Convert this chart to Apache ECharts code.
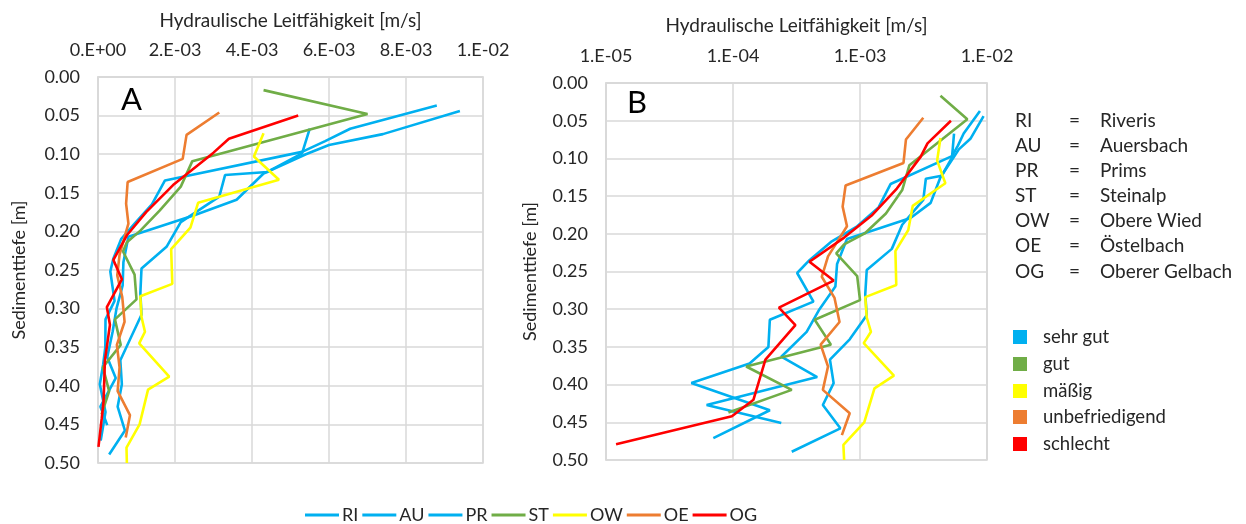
<!DOCTYPE html>
<html>
<head>
<meta charset="utf-8">
<script src="https://cdn.jsdelivr.net/npm/echarts@6/dist/echarts.min.js"></script>
<style>
html,body{margin:0;padding:0;background:#fff;}
#chart{width:1246px;height:524px;}
</style>
</head>
<body>
<div id="chart"></div>
<script>
// ---- data: depth [m] and hydraulic conductivity [m/s] ----
const seriesNames = ['RI','AU','PR','ST','OW','OE','OG'];
const seriesColors = ['#00B0F0','#00B0F0','#00B0F0','#70AD47','#FFFF00','#ED7D31','#FF0000'];

const RI_depth = [0.037,0.067,0.083,0.097,0.134,0.165,0.19,0.21,0.235,0.252,0.29,0.314,0.35,0.372,0.398,0.434,0.471];
const RI_K     = [8.8e-3,6.55e-3,5.9e-3,5.3e-3,1.74e-3,1.4e-3,9.5e-4,6.0e-4,4.0e-4,3.2e-4,4.3e-4,1.95e-4,1.9e-4,1.35e-4,4.7e-5,1.95e-4,7e-5];

const AU_depth = [0.044,0.074,0.088,0.1,0.125,0.159,0.179,0.207,0.24,0.27,0.30,0.33,0.363,0.39,0.427,0.451];
const AU_K     = [9.4e-3,7.4e-3,6.0e-3,5.4e-3,4.3e-3,3.6e-3,2.5e-3,7.9e-4,6.6e-4,6.4e-4,4.8e-4,3.8e-4,2.4e-4,4.6e-4,6.2e-5,2.4e-4];

const PR_depth = [0.067,0.099,0.123,0.127,0.155,0.188,0.22,0.248,0.28,0.308,0.34,0.367,0.398,0.427,0.458,0.489];
const PR_K     = [5.5e-3,5.3e-3,4.4e-3,3.3e-3,3.15e-3,2.15e-3,1.78e-3,1.13e-3,1.1e-3,1.13e-3,8.3e-4,5.8e-4,6.2e-4,5.1e-4,7e-4,2.9e-4];

const ST_depth = [0.017,0.048,0.109,0.142,0.173,0.199,0.214,0.226,0.256,0.288,0.314,0.347,0.376,0.407,0.437];
const ST_K     = [4.3e-3,7.0e-3,2.45e-3,2.15e-3,1.6e-3,1.1e-3,7.5e-4,6.5e-4,9.5e-4,1.0e-3,4.4e-4,5.9e-4,1.27e-4,2.9e-4,9.2e-5];

const OW_depth = [0.073,0.103,0.133,0.163,0.195,0.223,0.268,0.284,0.311,0.33,0.345,0.388,0.405,0.45,0.48,0.5];
const OW_K     = [4.3e-3,4.05e-3,4.7e-3,2.6e-3,2.4e-3,1.9e-3,1.93e-3,1.1e-3,1.13e-3,1.22e-3,1.07e-3,1.85e-3,1.3e-3,1.08e-3,7.4e-4,7.5e-4];

const OE_depth = [0.046,0.075,0.106,0.136,0.164,0.19,0.23,0.257,0.285,0.317,0.347,0.376,0.407,0.438,0.467];
const OE_K     = [3.15e-3,2.3e-3,2.2e-3,7.7e-4,7.3e-4,7.9e-4,5.6e-4,5.0e-4,6.3e-4,6.9e-4,4.9e-4,5.6e-4,5.1e-4,8.3e-4,7.2e-4];

const OG_depth = [0.05,0.08,0.098,0.14,0.175,0.205,0.237,0.262,0.298,0.321,0.367,0.42,0.442,0.479];
const OG_K     = [5.2e-3,3.4e-3,3.0e-3,1.95e-3,1.25e-3,7.5e-4,4.0e-4,6.2e-4,2.3e-4,3.1e-4,1.8e-4,1.45e-4,9.8e-5,1.2e-5];

const depthTicks = ['0.00','0.05','0.10','0.15','0.20','0.25','0.30','0.35','0.40','0.45','0.50'];
const linTickLabels = ['0.E+00','2.E-03','4.E-03','6.E-03','8.E-03','1.E-02'];
const logTickLabels = ['1.E-05','1.E-04','1.E-03','1.E-02'];

const abbrev = ['RI','AU','PR','ST','OW','OE','OG'];
const fullNames = ['Riveris','Auersbach','Prims','Steinalp','Obere Wied','Östelbach','Oberer Gelbach'];
const classNames = ['sehr gut','gut','mäßig','unbefriedigend','schlecht'];
const classColors = ['#00B0F0','#70AD47','#FFFF00','#ED7D31','#FF0000'];

// ---- build ----
const depths = [RI_depth,AU_depth,PR_depth,ST_depth,OW_depth,OE_depth,OG_depth];
const ks = [RI_K,AU_K,PR_K,ST_K,OW_K,OE_K,OG_K];
const FONT = 'Lato';
const TXT = '#262626';
const GRIDC = '#d9d9d9';
const TICKFS = 18, TITLEFS = 19, LEGFS = 19;

function pairs(i){ return depths[i].map((d,j)=>[ks[i][j], d]); }

const series = [];
for (let g=0; g<2; g++){
  for (let i=0;i<seriesNames.length;i++){
    series.push({
      name: seriesNames[i], type:'line', xAxisIndex:g, yAxisIndex:g,
      data: pairs(i), symbol:'none', smooth:false,
      lineStyle:{color:seriesColors[i], width:2.6},
      itemStyle:{color:seriesColors[i]},
      emphasis:{disabled:true}
    });
  }
}

const yAxisBase = {
  type:'value', inverse:true, min:0, max:0.5, interval:0.05,
  name:'Sedimenttiefe [m]', nameLocation:'middle', nameRotate:90,
  nameTextStyle:{fontFamily:FONT,fontSize:TITLEFS-1,color:TXT},
  axisLine:{show:true,lineStyle:{color:GRIDC,width:1.5}},
  axisTick:{show:false},
  splitLine:{show:true,lineStyle:{color:GRIDC,width:1.5}},
  axisLabel:{fontFamily:FONT,fontSize:TICKFS,color:TXT,margin:18,
    formatter:(v)=>depthTicks[Math.round(v/0.05)]}
};

const graphics = [
  {type:'text', left:121, top:84, style:{text:'A', font:'31px '+FONT, fill:'#000'}},
  {type:'text', left:627, top:87, style:{text:'B', font:'31px '+FONT, fill:'#000'}}
];
const rowY = [121,146,171,196,221,246,272];
for (let i=0;i<abbrev.length;i++){
  graphics.push({type:'text', x:1015, y:rowY[i], style:{text:abbrev[i], font:LEGFS+'px '+FONT, fill:TXT, verticalAlign:'middle'}});
  graphics.push({type:'text', x:1069, y:rowY[i], style:{text:'=', font:LEGFS+'px '+FONT, fill:TXT, verticalAlign:'middle'}});
  graphics.push({type:'text', x:1100, y:rowY[i], style:{text:fullNames[i], font:LEGFS+'px '+FONT, fill:TXT, verticalAlign:'middle'}});
}
const clsY = [337,364,391,417,444];
for (let i=0;i<classNames.length;i++){
  graphics.push({type:'rect', shape:{x:1013, y:clsY[i]-7, width:14, height:14}, style:{fill:classColors[i]}});
  graphics.push({type:'text', x:1043, y:clsY[i], style:{text:classNames[i], font:'18.5px '+FONT, fill:TXT, verticalAlign:'middle'}});
}

const chart = echarts.init(document.getElementById('chart'), null, {renderer:'canvas'});
chart.setOption({
  animation:false,
  backgroundColor:'#fff',
  textStyle:{fontFamily:FONT},
  grid:[
    {left:98, top:77, width:385, height:386, show:true, borderColor:GRIDC, borderWidth:1.5},
    {left:606, top:83, width:381, height:377, show:true, borderColor:GRIDC, borderWidth:1.5}
  ],
  xAxis:[
    {type:'value', gridIndex:0, position:'top', min:0, max:0.01, interval:0.002,
     name:'Hydraulische Leitfähigkeit [m/s]', nameLocation:'middle', nameGap:47,
     nameTextStyle:{fontFamily:FONT,fontSize:TITLEFS,color:TXT},
     axisLine:{show:true,lineStyle:{color:GRIDC,width:1.5}}, axisTick:{show:false},
     splitLine:{show:true,lineStyle:{color:GRIDC,width:1.5}},
     axisLabel:{fontFamily:FONT,fontSize:TICKFS,color:TXT,margin:18,
       formatter:(v)=>linTickLabels[Math.round(v/0.002)]}},
    {type:'log', gridIndex:1, position:'top', min:1e-5, max:1e-2, logBase:10,
     name:'Hydraulische Leitfähigkeit [m/s]', nameLocation:'middle', nameGap:48,
     nameTextStyle:{fontFamily:FONT,fontSize:TITLEFS,color:TXT},
     axisLine:{show:true,lineStyle:{color:GRIDC,width:1.5}}, axisTick:{show:false},
     minorTick:{show:false}, minorSplitLine:{show:false},
     splitLine:{show:true,lineStyle:{color:GRIDC,width:1.5}},
     axisLabel:{fontFamily:FONT,fontSize:TICKFS,color:TXT,margin:18,
       formatter:(v)=>logTickLabels[Math.round(Math.log10(v))+5]}}
  ],
  yAxis:[
    Object.assign({}, yAxisBase, {gridIndex:0, nameGap:70}),
    Object.assign({}, yAxisBase, {gridIndex:1, nameGap:67})
  ],
  legend:{
    data:seriesNames, top:501, left:300, icon:'rect', itemWidth:34, itemHeight:3,
    itemGap:4, textStyle:{fontFamily:FONT,fontSize:TICKFS,color:TXT,padding:[0,0,0,-2]},
    selectedMode:false
  },
  series:series,
  graphic:graphics
});
</script>
</body>
</html>
